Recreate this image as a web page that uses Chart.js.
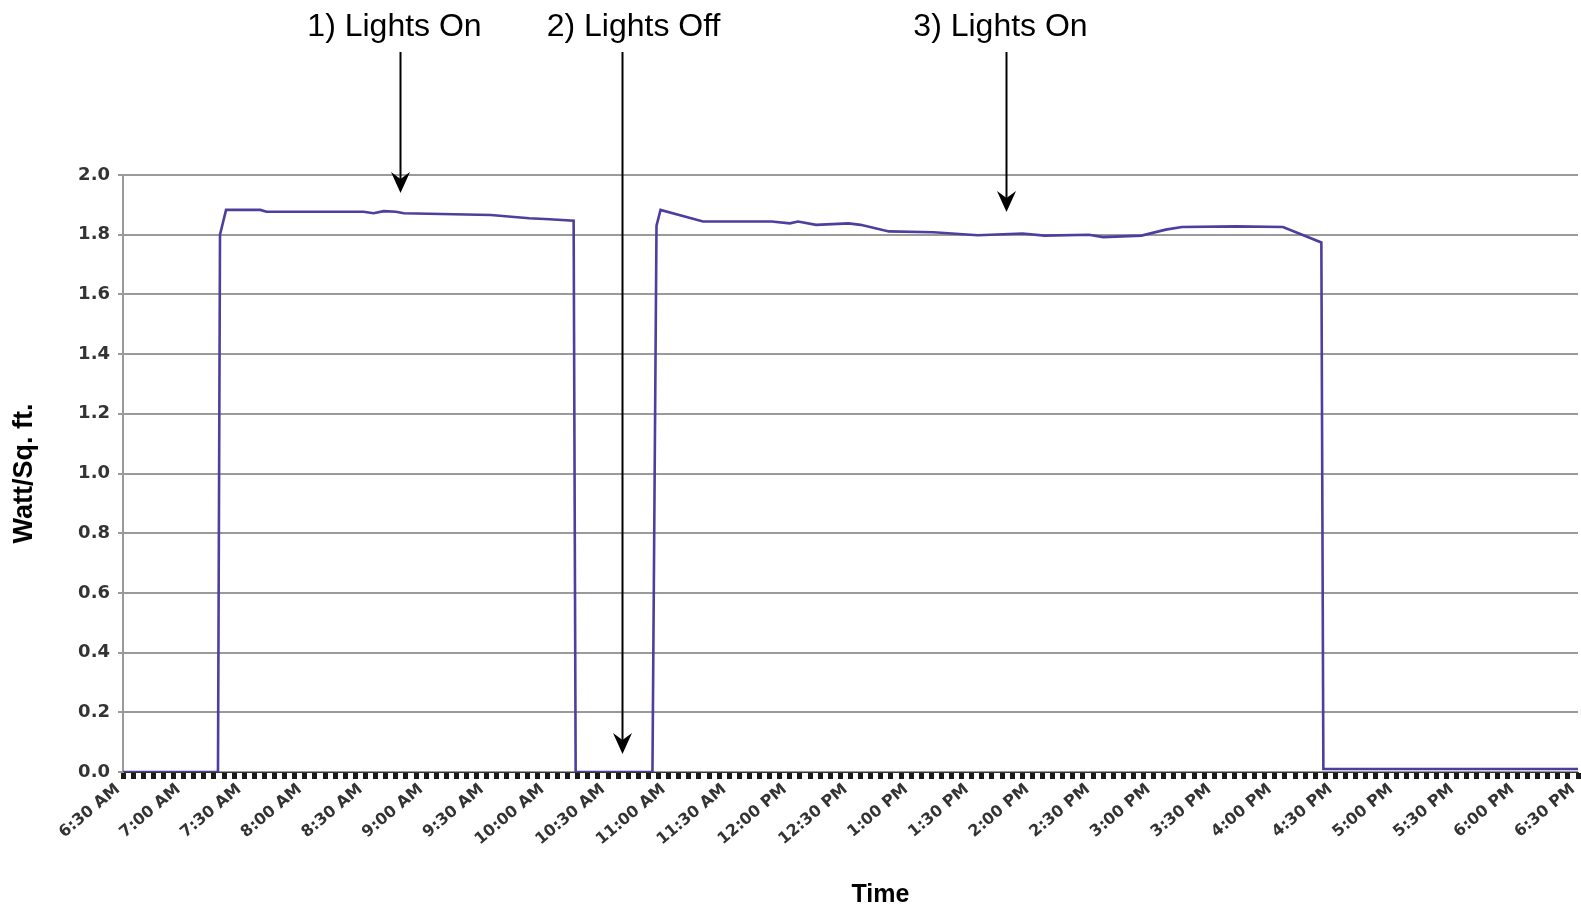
<!DOCTYPE html>
<html>
<head>
<meta charset="utf-8">
<title>Lighting load - Watt/Sq. ft.</title>
<script src="https://cdn.jsdelivr.net/npm/chart.js@4.4.1/dist/chart.umd.min.js"></script>
<style>
    html, body { margin: 0; padding: 0; background: #fff; }
    #wrap { width: 1581px; height: 908px; position: relative; }
</style>
</head>
<body>
<div id="wrap"><canvas id="loadChart"></canvas></div>
<script>
// Logged readings (clock time, W/sq.ft.)
const sampleTimes = ['06:30', '07:17', '07:18', '07:21', '07:38', '07:41', '08:29', '08:34', '08:39', '08:45',
    '08:49', '09:32', '09:51', '10:01', '10:13', '10:14', '10:52', '10:54', '10:56', '11:17',
    '11:51', '12:00', '12:04', '12:13', '12:29', '12:35', '12:49', '13:11', '13:33', '13:55',
    '14:06', '14:28', '14:35', '14:54', '15:06', '15:14', '15:41', '16:04', '16:23', '16:24', '18:30'];
const wattsPerSqFt = [0, 0, 1.80, 1.883, 1.883, 1.877, 1.877, 1.872, 1.879, 1.877,
    1.872, 1.866, 1.855, 1.852, 1.847, 0, 0, 1.83, 1.883, 1.844,
    1.844, 1.838, 1.844, 1.833, 1.838, 1.833, 1.811, 1.808, 1.798, 1.804,
    1.797, 1.80, 1.792, 1.797, 1.817, 1.826, 1.828, 1.826, 1.774, 0.01, 0.01];

// Axis labels every half hour
const timeTickLabels = ['6:30 AM', '7:00 AM', '7:30 AM', '8:00 AM', '8:30 AM', '9:00 AM', '9:30 AM',
    '10:00 AM', '10:30 AM', '11:00 AM', '11:30 AM', '12:00 PM', '12:30 PM', '1:00 PM', '1:30 PM',
    '2:00 PM', '2:30 PM', '3:00 PM', '3:30 PM', '4:00 PM', '4:30 PM', '5:00 PM', '5:30 PM',
    '6:00 PM', '6:30 PM'];

// Callouts
const noteLabels = ['1) Lights On', '2) Lights Off', '3) Lights On'];
const noteTimes = ['08:47', '10:37', '13:47'];
const noteTipValues = [1.94, 0.06, 1.876];

const START_MIN = 6 * 60 + 30;
function toMinutes(t) {
    const [h, m] = t.split(':').map(Number);
    return h * 60 + m - START_MIN;
}

const points = sampleTimes.map((t, i) => ({ x: toMinutes(t), y: wattsPerSqFt[i] }));

// Callout arrows, plus the "Time" caption (sits a little right of centre)
const calloutPlugin = {
    id: 'callouts',
    afterDatasetsDraw(chart, args, opts) {
        const ctx = chart.ctx;
        const xs = chart.scales.x, ys = chart.scales.y;
        const area = chart.chartArea;
        ctx.save();
        ctx.fillStyle = '#000';
        ctx.strokeStyle = '#000';
        ctx.font = '32px "Liberation Sans", Arial, sans-serif';
        ctx.textAlign = 'center';
        ctx.textBaseline = 'alphabetic';
        noteLabels.forEach((label, i) => {
            const x = Math.round(xs.getPixelForValue(toMinutes(noteTimes[i]))) + 0.5;
            const tip = ys.getPixelForValue(noteTipValues[i]);
            ctx.fillText(label, x + opts.textShift[i], 36);
            // shaft
            ctx.lineWidth = 2;
            ctx.beginPath();
            ctx.moveTo(x, 52);
            ctx.lineTo(x, tip - 14);
            ctx.stroke();
            // notched head
            ctx.beginPath();
            ctx.moveTo(x, tip);
            ctx.lineTo(x - 9.5, tip - 21);
            ctx.lineTo(x, tip - 14);
            ctx.lineTo(x + 9.5, tip - 21);
            ctx.closePath();
            ctx.fill();
        });

        ctx.font = 'bold 25px "Liberation Sans", Arial, sans-serif';
        ctx.fillText('Time', (area.left + area.right) / 2 + 30, 902);
        ctx.restore();
    }
};

const ctx = document.getElementById('loadChart').getContext('2d');
const loadChart = new Chart(ctx, {
    type: 'line',
    data: {
        datasets: [{
            label: 'Watt/Sq. ft.',
            data: points,
            borderColor: '#4c3f9e',
            borderWidth: 2.6,
            pointRadius: 0,
            fill: false,
            tension: 0
        }]
    },
    options: {
        responsive: true,
        maintainAspectRatio: false,
        animation: false,
        layout: {
            padding: { top: 175, right: 3, bottom: 0, left: 0 }
        },
        plugins: {
            legend: { display: false },
            tooltip: { enabled: false },
            callouts: { textShift: [-6, 11, -6] }
        },
        scales: {
            x: {
                type: 'linear',
                min: 0,
                max: 720,
                afterFit: (scale) => {
                    scale.height = 136;
                    scale.paddingLeft = 0;
                    scale.paddingRight = 0;
                },
                ticks: {
                    stepSize: 5,
                    maxTicksLimit: 1000,
                    autoSkip: false,
                    minRotation: 40,
                    maxRotation: 40,
                    padding: 1,
                    labelOffset: -5,
                    color: '#333',
                    font: { family: '"DejaVu Sans"', size: 16, weight: 'bold' },
                    callback: (v) => (v % 30 === 0 ? timeTickLabels[v / 30] : '')
                },
                grid: {
                    drawOnChartArea: false,
                    drawTicks: true,
                    tickLength: 7,
                    tickWidth: 5,
                    tickColor: '#1a1a1a'
                },
                border: { display: true, color: '#333', width: 1 }
            },
            y: {
                min: 0,
                max: 2,
                afterFit: (scale) => {
                    scale.width = 123;
                    scale.paddingTop = 0;
                },
                ticks: {
                    stepSize: 0.2,
                    padding: 8,
                    color: '#333',
                    font: { family: '"DejaVu Sans"', size: 18, weight: 'bold' },
                    callback: (v) => v.toFixed(1)
                },
                grid: {
                    color: '#9a9a9a',
                    lineWidth: 2,
                    tickLength: 5
                },
                border: { display: true, color: '#999', width: 2 },
                title: {
                    display: true,
                    text: 'Watt/Sq. ft.',
                    color: '#000',
                    font: { family: '"Liberation Sans"', size: 27, weight: 'bold' },
                    padding: { top: 8, bottom: 0 }
                }
            }
        }
    },
    plugins: [calloutPlugin]
});
</script>
</body>
</html>
